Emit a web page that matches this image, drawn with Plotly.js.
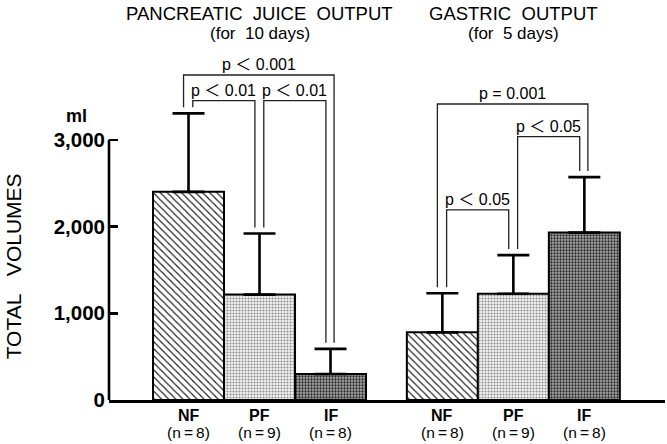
<!DOCTYPE html>
<html>
<head>
<meta charset="utf-8">
<script src="https://cdn.plot.ly/plotly-3.0.1.min.js"></script>
<style>html,body{margin:0;padding:0;background:#fff;}#chart{width:667px;height:444px;}</style>
</head>
<body>
<div id="chart"></div>
<script>
// ---- data ----
const treatments = ["NF", "PF", "IF"];
const nSizes = [8, 9, 8];
const groupTitles = ["PANCREATIC\u00A0\u00A0JUICE\u00A0\u00A0OUTPUT", "GASTRIC\u00A0\u00A0OUTPUT"];
const groupSubtitles = ["(for\u00A0\u00A010 days)", "(for\u00A0\u00A05 days)"];
const pancreaticMean = [2400, 1215, 300];
const pancreaticSD = [905, 705, 290];
const gastricMean = [780, 1225, 1930];
const gastricSD = [450, 445, 640];
const yTickVals = [0, 1000, 2000, 3000];
const yTickText = ["0", "1,000", "2,000", "3,000"];
const pancreaticTests = [
  {from: 0, to: 2, label: "p \uFF1C 0.001", level: 3747},
  {from: 0, to: 1, label: "p \uFF1C 0.01", level: 3451},
  {from: 1, to: 2, label: "p \uFF1C 0.01", level: 3451}
];
const gastricTests = [
  {from: 0, to: 2, label: "p = 0.001", level: 3413},
  {from: 0, to: 1, label: "p \uFF1C 0.05", level: 2191},
  {from: 1, to: 2, label: "p \uFF1C 0.05", level: 3036}
];

// ---- layout helpers ----
const FONT = "Liberation Sans, Arial, Helvetica, Noto Sans CJK JP, sans-serif";
const groupOffset = [0, 3.575];
const means = [pancreaticMean, gastricMean];
const sds = [pancreaticSD, gastricSD];
const tests = [pancreaticTests, gastricTests];
const patterns = [
  {shape: "\\", fgcolor: "#1a1a1a", bgcolor: "#ffffff", size: 5, solidity: 0.22},
  {shape: ".", fgcolor: "#8a8a8a", bgcolor: "#f2f2f2", size: 3, solidity: 0.35},
  {shape: ".", fgcolor: "#2a2a2a", bgcolor: "#a8a8a8", size: 3, solidity: 0.45}
];

const traces = treatments.map((t, i) => ({
  type: "bar",
  name: t,
  x: groupOffset.map(o => o + i),
  y: means.map(m => m[i]),
  width: 1,
  marker: {color: "white", pattern: patterns[i], line: {color: "#000", width: 2}},
  error_y: {type: "data", symmetric: false, array: sds.map(s => s[i]),
            arrayminus: [0, 0], thickness: 2.6, width: 16, color: "#000"},
  hoverinfo: "skip"
}));

const shapes = [];
const annotations = [];

// category labels under the bars
groupOffset.forEach(o => treatments.forEach((t, i) => {
  annotations.push({x: o + i, xref: "x", y: -0.039, yref: "paper", text: "<b>" + t + "</b>",
    showarrow: false, xanchor: "center", yanchor: "middle",
    font: {family: FONT, size: 16, color: "#000"}});
  annotations.push({x: o + i, xref: "x", y: -0.08, yref: "paper", text: "(n\u2009=\u2009" + nSizes[i] + ")",
    showarrow: false, xanchor: "center", yanchor: "middle",
    font: {family: FONT, size: 15.5, color: "#000"}});
}));

const legGap = 70;
tests.forEach((list, g) => list.forEach(tst => {
  const span = tst.to - tst.from;
  const xl = groupOffset[g] + tst.from + (span === 1 ? 0.06 : -0.07);
  const xr = groupOffset[g] + tst.to + (span === 1 ? -0.065 : 0.05);
  const yl = means[g][tst.from] + sds[g][tst.from] + legGap;
  const yr = means[g][tst.to] + sds[g][tst.to] + legGap;
  const ln = {color: "#222", width: 1.3};
  shapes.push({type: "path", xref: "x", yref: "y",
    path: `M${xl},${yl} L${xl},${tst.level} L${xr},${tst.level} L${xr},${yr}`, line: ln});
  annotations.push({x: (xl + xr) / 2, y: tst.level, xref: "x", yref: "y", text: tst.label,
    showarrow: false, yanchor: "bottom", xanchor: "center", yshift: 0,
    font: {family: FONT, size: 16, color: "#000"}});
}));

// y axis line only up to last tick
shapes.push({type: "line", xref: "paper", yref: "y", x0: 0, x1: 0, y0: 0,
  y1: yTickVals[yTickVals.length - 1], line: {color: "#000", width: 2.6}});

groupTitles.forEach((t, g) => {
  annotations.push({x: groupOffset[g] + 1, y: 4462, xref: "x", yref: "y", text: t, showarrow: false,
    xanchor: "center", font: {family: FONT, size: 18.5, color: "#000"}});
  annotations.push({x: groupOffset[g] + 1, y: 4231, xref: "x", yref: "y", text: groupSubtitles[g], showarrow: false,
    xanchor: "center", font: {family: FONT, size: 17, color: "#000"}});
});
annotations.push({x: -0.172, xref: "paper", y: 1545, yref: "y", text: "TOTAL\u00A0\u00A0\u00A0VOLUMES",
  textangle: -90, showarrow: false, xanchor: "center", yanchor: "middle",
  font: {family: FONT, size: 21, color: "#000"}});
annotations.push({x: -0.0576, xref: "paper", y: 3275, yref: "y", text: "<b>ml</b>",
  showarrow: false, xanchor: "center", yanchor: "middle", font: {family: FONT, size: 18, color: "#000"}});

const xmin = -1.12, pxPerUnit = 71, plotW = 667 - 109 - 2;
const layout = {
  width: 667, height: 444,
  margin: {l: 109, r: 2, t: 0, b: 44, pad: 0},
  paper_bgcolor: "#fff", plot_bgcolor: "#fff",
  showlegend: false,
  bargap: 0,
  xaxis: {range: [xmin, xmin + plotW / pxPerUnit], showticklabels: false,
    showline: true, linecolor: "#000", linewidth: 2.6, showgrid: false, zeroline: false,
    ticks: "", fixedrange: true},
  yaxis: {range: [0, 4612], tickvals: yTickVals, ticktext: yTickText, showline: false,
    showgrid: false, zeroline: false, ticks: "inside", ticklen: 9, tickwidth: 2.6, tickcolor: "#000",
    ticklabelstandoff: 3,
    tickfont: {family: FONT, size: 20.5, color: "#000", weight: "bold"}, fixedrange: true},
  shapes: shapes,
  annotations: annotations
};
Plotly.newPlot("chart", traces, layout, {staticPlot: true, displayModeBar: false});
</script>
</body>
</html>
